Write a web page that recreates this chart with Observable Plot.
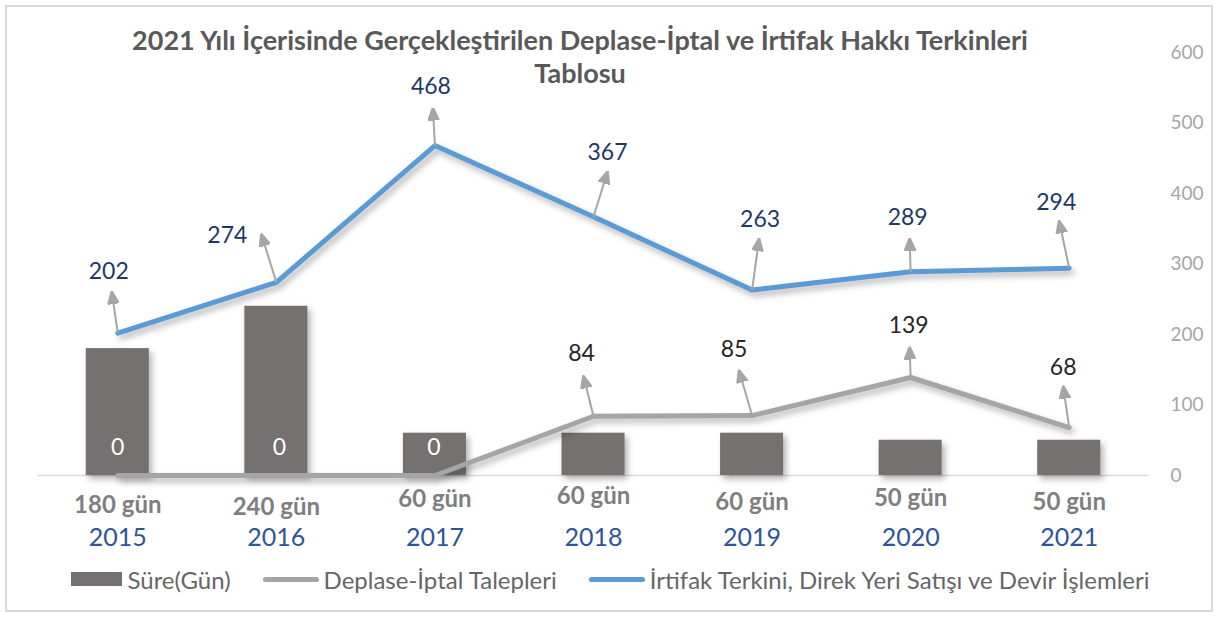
<!DOCTYPE html>
<html><head><meta charset="utf-8">
<script src="https://cdn.jsdelivr.net/npm/d3@7"></script>
<script src="https://cdn.jsdelivr.net/npm/@observablehq/plot@0.6"></script>
<style>
body{margin:0;width:1221px;height:617px;position:relative;background:#fff;font-family:Lato,"Open Sans",sans-serif;overflow:hidden}
#frame{position:absolute;left:5px;top:5px;width:1204px;height:603px;border:2px solid #D9D9D9;}
#chart{position:absolute;left:0;top:0}
#title{position:absolute;left:0;top:23px;width:1160px;text-align:center;font-weight:700;font-size:27px;line-height:33px;color:#595959}
#legend{position:absolute;left:0;width:1221px;top:565px;height:28px;display:flex;justify-content:center;align-items:center;font-size:24px;color:#666666;white-space:nowrap}
.sw{display:inline-block;margin-right:5px}
.item{display:flex;align-items:center;margin:0 16px}
</style></head>
<body>
<div id="frame"></div>
<div id="chart"></div>
<div id="title">2021 Yılı İçerisinde Gerçekleştirilen Deplase-İptal ve İrtifak Hakkı Terkinleri<br>Tablosu</div>
<div id="legend"></div>
<script>
// ---- data ----
const years = ["2015", "2016", "2017", "2018", "2019", "2020", "2021"];
const durationLabels = ["180 gün", "240 gün", "60 gün", "60 gün", "60 gün", "50 gün", "50 gün"];
const durationDays = [180, 240, 60, 60, 60, 50, 50];
const deplaseIptal = [0, 0, 0, 84, 85, 139, 68];
const irtifakTerkini = [202, 274, 468, 367, 263, 289, 294];
const yTicks = [0, 100, 200, 300, 400, 500, 600];
const seriesNames = ["Süre(Gün)", "Deplase-İptal Talepleri", "İrtifak Terkini, Direk Yeri Satışı ve Devir İşlemleri"];

// ---- layout (pixel offsets of callouts relative to their point) ----
const blueTip = [[-6,-41],[-15,-48],[-2,-37],[14,-45],[7,-51],[-1,-33],[-10,-47]];
const blueLab = [[-9,-61],[-49,-47],[-4,-59],[14,-64],[8,-70],[-3,-54],[-13,-66]];
const grayTip = [null,null,null,[-10,-40],[-13,-45],[-1,-30],[-6,-41]];
const grayLab = [[0,-28],[3,-28],[-1,-28],[-12,-63],[-18,-66],[-2,-52],[-6,-60]];
const gunDy = [30,32,24,21,27,23,27];
const yearDy = 62;

const W = 1221, H = 560, mL = 38, mR = 73, mT = 52, mB = 85;
const yMax = 600;
const pxX = (W - mL - mR) / years.length;
const pxY = (H - mT - mB) / yMax;
const barHalf = 31.5 / pxX;

const idx = years.map((_, i) => i);
const bars = idx.map(i => ({i, v: durationDays[i]}));
const grayData = idx.map(i => ({i, v: deplaseIptal[i]}));
const blueData = idx.map(i => ({i, v: irtifakTerkini[i]}));

const arrows = [];
blueData.forEach(d => { const t = blueTip[d.i]; arrows.push({x1: d.i, y1: d.v, x2: d.i + t[0]/pxX, y2: d.v - t[1]/pxY}); });
grayData.forEach(d => { const t = grayTip[d.i]; if (t) arrows.push({x1: d.i, y1: d.v, x2: d.i + t[0]/pxX, y2: d.v - t[1]/pxY}); });

const blueLabels = blueData.map(d => ({x: d.i + blueLab[d.i][0]/pxX, y: d.v - blueLab[d.i][1]/pxY, t: String(d.v)}));
const grayLabels = grayData.map(d => ({x: d.i + grayLab[d.i][0]/pxX, y: d.v - grayLab[d.i][1]/pxY, t: String(d.v), zero: d.v === 0}));

function head(color, context) {
  const ns = "http://www.w3.org/2000/svg";
  const m = document.createElementNS(ns, "marker");
  m.setAttribute("viewBox", "-12 -6 13 12");
  m.setAttribute("markerWidth", 13);
  m.setAttribute("markerHeight", 12);
  m.setAttribute("markerUnits", "userSpaceOnUse");
  m.setAttribute("orient", "auto");
  m.setAttribute("refX", 0);
  m.setAttribute("refY", 0);
  const p = document.createElementNS(ns, "path");
  p.setAttribute("d", "M-12,-5.5L1,0L-12,5.5Z");
  p.setAttribute("fill", color);
  m.appendChild(p);
  return m;
}

const chart = Plot.plot({
  width: W, height: H,
  marginLeft: mL, marginRight: mR, marginTop: mT, marginBottom: mB,
  x: {domain: [-0.5, years.length - 0.5], axis: null},
  y: {domain: [0, yMax], axis: null},
  style: {fontFamily: "Lato, 'Open Sans', sans-serif", background: "transparent", overflow: "visible"},
  marks: [
    Plot.ruleY([0], {stroke: "#D9D9D9", strokeWidth: 1.5}),
    Plot.rect(bars, {x1: d => d.i - barHalf, x2: d => d.i + barHalf, y1: 0, y2: "v", fill: "#767171"}),
    Plot.line(grayData, {x: "i", y: "v", stroke: "#A5A5A5", strokeWidth: 5, strokeLinecap: "round", strokeLinejoin: "round"}),
    Plot.line(blueData, {x: "i", y: "v", stroke: "#5B9BD5", strokeWidth: 5, strokeLinecap: "round", strokeLinejoin: "round"}),
    Plot.link(arrows, {x1: "x1", y1: "y1", x2: "x2", y2: "y2", stroke: "#A6A6A6", strokeWidth: 2, markerEnd: head}),
    Plot.text(blueLabels, {x: "x", y: "y", text: "t", fill: "#1F3864", fontSize: 23}),
    Plot.text(grayLabels.filter(d => !d.zero), {x: "x", y: "y", text: "t", fill: "#262626", fontSize: 23}),
    Plot.text(grayLabels.filter(d => d.zero), {x: "x", y: "y", text: "t", fill: "#FFFFFF", fontSize: 23}),
    Plot.axisY({anchor: "right", ticks: yTicks, tickSize: 0, tickPadding: 22, fontSize: 19, fill: "#A6A6A6", label: null}),
    Plot.text(idx, {x: i => i, y: i => -gunDy[i]/pxY, text: i => durationLabels[i], fontWeight: "bold", fontSize: 24, fill: "#7F7F7F"}),
    Plot.text(idx, {x: i => i, y: -yearDy/pxY, text: i => years[i], fontSize: 25, fill: "#2F5597"})
  ]
});
document.getElementById("chart").appendChild(chart);
chart.querySelectorAll('g[aria-label="rect"], g[aria-label="line"]').forEach(g => {
  g.style.filter = "drop-shadow(3px 4px 3px rgba(0,0,0,0.3))";
});

// legend
const lg = document.getElementById("legend");
const swatches = [
  '<span class="sw" style="width:51px;height:14px;background:#767171"></span>',
  '<span class="sw" style="width:56px;height:5px;border-radius:3px;background:#A5A5A5"></span>',
  '<span class="sw" style="width:56px;height:5px;border-radius:3px;background:#5B9BD5"></span>'
];
lg.innerHTML = seriesNames.map((n, k) => `<span class="item">${swatches[k]}<span>${n}</span></span>`).join("");
</script>
</body></html>
